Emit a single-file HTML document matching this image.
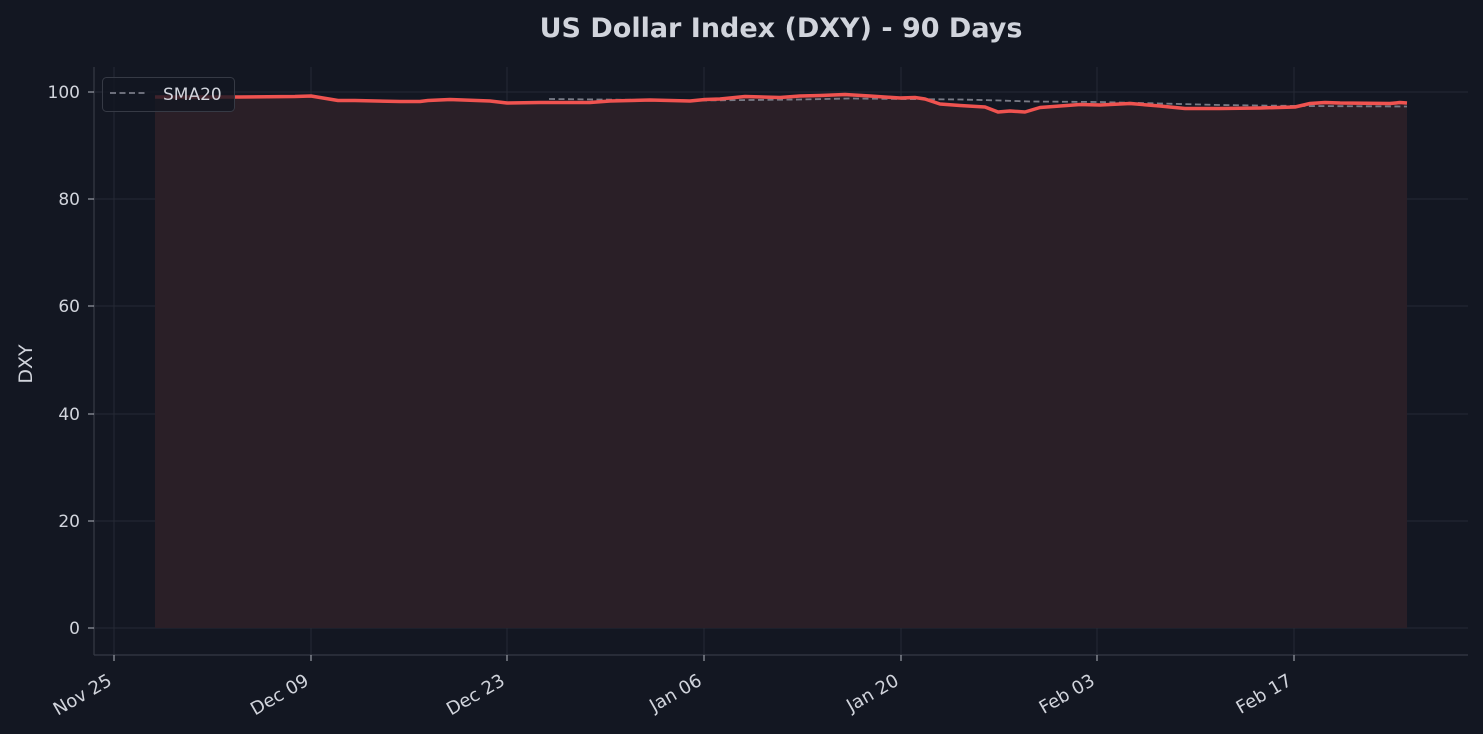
<!DOCTYPE html>
<html><head><style>body{margin:0;background:#131722}svg{display:block}text{font-family:"DejaVu Sans","Liberation Sans",sans-serif}</style></head><body>
<svg width="1483" height="734" viewBox="0 0 1483 734">
<rect width="1483" height="734" fill="#131722"/>
<text x="781" y="37" text-anchor="middle" font-size="27" font-weight="bold" fill="#d1d4dc">US Dollar Index (DXY) - 90 Days</text>
<g stroke="#262a35" stroke-width="1">
<line x1="114" y1="67" x2="114" y2="655"/><line x1="311" y1="67" x2="311" y2="655"/><line x1="507" y1="67" x2="507" y2="655"/><line x1="704" y1="67" x2="704" y2="655"/><line x1="901" y1="67" x2="901" y2="655"/><line x1="1097" y1="67" x2="1097" y2="655"/><line x1="1294" y1="67" x2="1294" y2="655"/>
<line x1="94" y1="628" x2="1468" y2="628"/><line x1="94" y1="521" x2="1468" y2="521"/><line x1="94" y1="414" x2="1468" y2="414"/><line x1="94" y1="306" x2="1468" y2="306"/><line x1="94" y1="199" x2="1468" y2="199"/><line x1="94" y1="92" x2="1468" y2="92"/>
</g>
<polygon fill="#2a1f27" points="155,628 155,97 200,97 240,97 295,96.5 311,96 338,100.5 355,100.5 400,101.5 420,101.5 428,100.5 450,99.5 490,101 507,103 540,102.5 590,102.5 610,101 650,100 690,101 705,99.5 720,99 745,96.5 780,97.5 800,96 820,95.5 845,94.5 870,96 900,98 915,97.5 925,99 940,104 960,105.5 985,107 998,112 1010,111 1025,112 1040,107.5 1060,106 1080,104.5 1100,105 1130,103.5 1160,106 1185,108.5 1220,108.5 1260,108 1295,107 1310,103.5 1325,102.5 1340,103 1390,103.5 1400,102.5 1407,103 1407,628"/>
<polyline fill="none" stroke="#787b86" stroke-width="1.8" stroke-dasharray="6,3.5" points="549,99 700,100.5 800,99.5 850,98.5 900,99 960,99.5 1000,100.5 1030,101.5 1100,102 1160,103.5 1220,105 1300,106 1407,106.5"/>
<polyline fill="none" stroke="#ef5350" stroke-width="3.5" stroke-linejoin="round" points="155,97 200,97 240,97 295,96.5 311,96 338,100.5 355,100.5 400,101.5 420,101.5 428,100.5 450,99.5 490,101 507,103 540,102.5 590,102.5 610,101 650,100 690,101 705,99.5 720,99 745,96.5 780,97.5 800,96 820,95.5 845,94.5 870,96 900,98 915,97.5 925,99 940,104 960,105.5 985,107 998,112 1010,111 1025,112 1040,107.5 1060,106 1080,104.5 1100,105 1130,103.5 1160,106 1185,108.5 1220,108.5 1260,108 1295,107 1310,103.5 1325,102.5 1340,103 1390,103.5 1400,102.5 1407,103"/>
<g stroke="#363a45" stroke-width="1.2"><line x1="94" y1="67" x2="94" y2="655"/><line x1="94" y1="655" x2="1468" y2="655"/></g>
<g stroke="#b2b5be"><line x1="114" y1="655" x2="114" y2="661"/><line x1="311" y1="655" x2="311" y2="661"/><line x1="507" y1="655" x2="507" y2="661"/><line x1="704" y1="655" x2="704" y2="661"/><line x1="901" y1="655" x2="901" y2="661"/><line x1="1097" y1="655" x2="1097" y2="661"/><line x1="1294" y1="655" x2="1294" y2="661"/>
<line x1="88" y1="628" x2="94" y2="628"/><line x1="88" y1="521" x2="94" y2="521"/><line x1="88" y1="414" x2="94" y2="414"/><line x1="88" y1="306" x2="94" y2="306"/><line x1="88" y1="199" x2="94" y2="199"/><line x1="88" y1="92" x2="94" y2="92"/></g>
<g font-size="17" fill="#d1d4dc" text-anchor="end">
<text x="80" y="634">0</text><text x="80" y="527">20</text><text x="80" y="420">40</text><text x="80" y="312">60</text><text x="80" y="205">80</text><text x="80" y="98">100</text>
</g>
<g font-size="18" fill="#d1d4dc" text-anchor="end">
<text transform="translate(113,684) rotate(-30)">Nov 25</text><text transform="translate(310,684) rotate(-30)">Dec 09</text><text transform="translate(506,684) rotate(-30)">Dec 23</text><text transform="translate(703,684) rotate(-30)">Jan 06</text><text transform="translate(900,684) rotate(-30)">Jan 20</text><text transform="translate(1096,684) rotate(-30)">Feb 03</text><text transform="translate(1293,684) rotate(-30)">Feb 17</text>
</g>
<text transform="translate(32,364) rotate(-90)" font-size="19" fill="#d1d4dc" text-anchor="middle">DXY</text>
<rect x="102.5" y="77.5" width="132" height="34" rx="4" fill="#131722" fill-opacity="0.8" stroke="#363a45"/>
<line x1="110" y1="93" x2="148" y2="93" stroke="#787b86" stroke-width="1.8" stroke-dasharray="6,3.5"/>
<text x="163" y="100" font-size="17" fill="#d1d4dc">SMA20</text>
</svg>
</body></html>
